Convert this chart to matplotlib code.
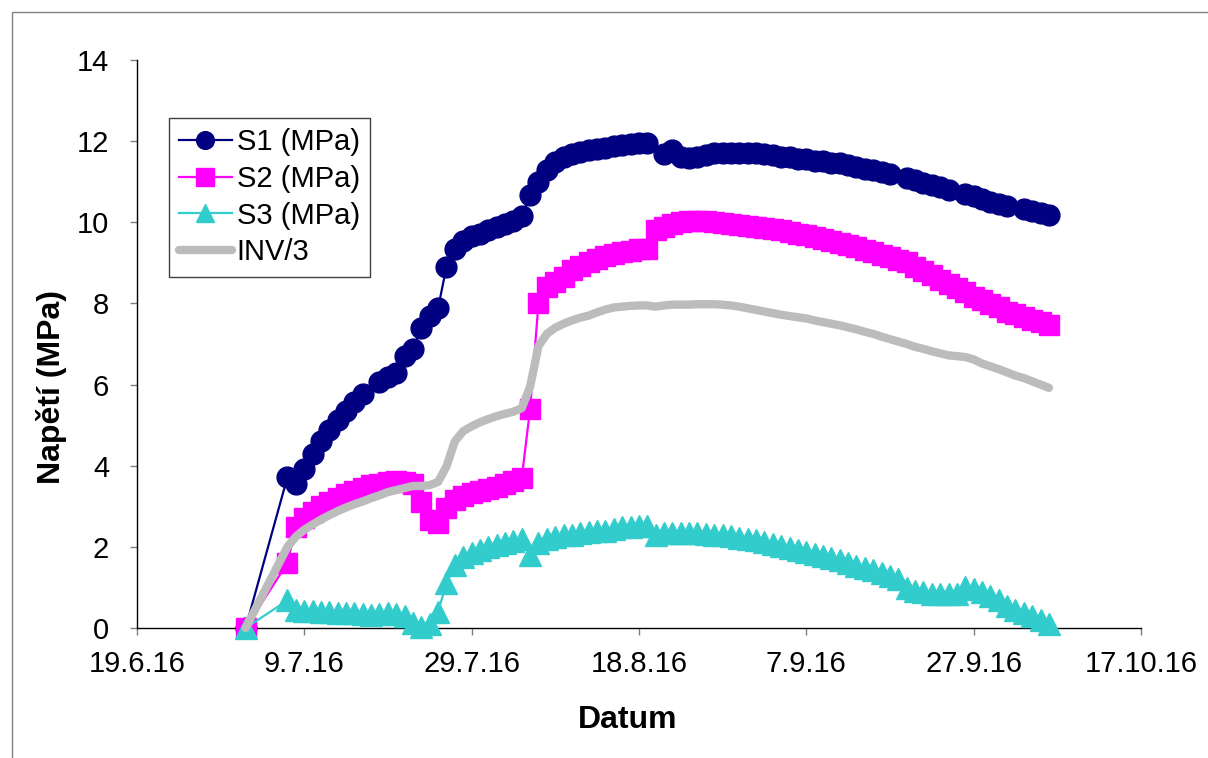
import matplotlib
matplotlib.use("Agg")
import matplotlib.pyplot as plt
from matplotlib.patches import Rectangle
import pandas as pd

plt.rcParams['font.family'] = ['Liberation Sans', 'DejaVu Sans']

# ---------------- data (days after 19.6.2016) ----------------
base_date = "2016-06-19"

s1_days = [13, 18, 19, 20, 21, 22, 23, 24, 25, 26, 27, 29, 30, 31, 32, 33, 34, 35, 36, 37,
           38, 39, 40, 41, 42, 43, 44, 45, 46, 47, 48, 49, 50, 51, 52, 53, 54, 55, 56, 57,
           58, 59, 60, 61, 63, 64, 65, 66, 67, 68, 69, 70, 71, 72, 73, 74, 75, 76, 77, 78,
           79, 80, 81, 82, 83, 84, 85, 86, 87, 88, 89, 90, 92, 93, 94, 95, 96, 97, 99, 100,
           101, 102, 103, 104, 106, 107, 108, 109]
s1_vals = [0.0, 3.72, 3.55, 3.92, 4.30, 4.62, 4.87, 5.12, 5.35, 5.57, 5.76, 6.07, 6.18, 6.28, 6.70, 6.88, 7.40, 7.70, 7.88, 8.90,
           9.35, 9.55, 9.65, 9.72, 9.80, 9.88, 9.95, 10.02, 10.15, 10.67, 11.00, 11.28, 11.48, 11.60, 11.68, 11.74, 11.78, 11.80, 11.84, 11.88,
           11.90, 11.93, 11.95, 11.95, 11.68, 11.78, 11.62, 11.58, 11.62, 11.66, 11.70, 11.72, 11.72, 11.72, 11.70, 11.70, 11.68, 11.65, 11.62, 11.60,
           11.57, 11.55, 11.52, 11.50, 11.47, 11.45, 11.40, 11.36, 11.32, 11.28, 11.24, 11.20, 11.10, 11.04, 10.98, 10.92, 10.86, 10.80, 10.70, 10.64,
           10.57, 10.50, 10.45, 10.40, 10.32, 10.27, 10.22, 10.18]

s2_days = [13, 18, 19, 20, 21, 22, 23, 24, 25, 26, 27, 28, 29, 30, 31, 32, 33, 34, 35, 36,
           37, 38, 39, 40, 41, 42, 43, 44, 45, 46, 47, 48, 49, 50, 51, 52, 53, 54, 55, 56,
           57, 58, 59, 60, 61, 62, 63, 64, 65, 66, 67, 68, 69, 70, 71, 72, 73, 74, 75, 76,
           77, 78, 79, 80, 81, 82, 83, 84, 85, 86, 87, 88, 89, 90, 91, 92, 93, 94, 95, 96,
           97, 98, 99, 100, 101, 102, 103, 104, 105, 106, 107, 108, 109]
s2_vals = [0.0, 1.60, 2.50, 2.70, 2.85, 3.00, 3.10, 3.20, 3.30, 3.38, 3.45, 3.52, 3.56, 3.60, 3.62, 3.60, 3.55, 3.10, 2.65, 2.60,
           2.95, 3.15, 3.25, 3.32, 3.38, 3.42, 3.48, 3.55, 3.62, 3.70, 5.40, 8.00, 8.40, 8.52, 8.65, 8.82, 8.92, 9.02, 9.10, 9.18,
           9.23, 9.27, 9.30, 9.33, 9.35, 9.80, 9.88, 9.95, 10.00, 10.03, 10.03, 10.02, 10.00, 9.98, 9.96, 9.94, 9.91, 9.88, 9.86, 9.84,
           9.80, 9.76, 9.72, 9.69, 9.64, 9.60, 9.55, 9.50, 9.45, 9.38, 9.32, 9.26, 9.20, 9.14, 9.08, 9.01, 8.90, 8.80, 8.69, 8.58,
           8.48, 8.38, 8.27, 8.17, 8.08, 7.99, 7.90, 7.80, 7.73, 7.66, 7.60, 7.55, 7.48]

s3_days = s2_days
s3_vals = [0.0, 0.68, 0.45, 0.42, 0.42, 0.40, 0.40, 0.38, 0.37, 0.36, 0.35, 0.33, 0.35, 0.38, 0.35, 0.30, 0.12, 0.02, 0.10, 0.40,
           1.10, 1.55, 1.75, 1.85, 1.92, 2.00, 2.05, 2.10, 2.15, 2.20, 1.80, 2.10, 2.20, 2.25, 2.28, 2.30, 2.33, 2.36, 2.38, 2.40,
           2.45, 2.48, 2.50, 2.52, 2.52, 2.28, 2.35, 2.35, 2.35, 2.33, 2.33, 2.32, 2.30, 2.28, 2.26, 2.23, 2.20, 2.17, 2.12, 2.07,
           2.02, 1.97, 1.92, 1.87, 1.82, 1.77, 1.72, 1.67, 1.60, 1.54, 1.48, 1.42, 1.35, 1.28, 1.20, 0.98, 0.92, 0.88, 0.85, 0.83,
           0.83, 0.85, 1.00, 0.95, 0.88, 0.78, 0.68, 0.55, 0.45, 0.38, 0.30, 0.20, 0.10]

inv_days = s2_days
inv_vals = [0.0, 2.00, 2.25, 2.42, 2.55, 2.67, 2.78, 2.88, 2.97, 3.05, 3.12, 3.20, 3.27, 3.35, 3.40, 3.45, 3.50, 3.50, 3.52, 3.60,
            3.98, 4.60, 4.85, 4.97, 5.07, 5.15, 5.22, 5.28, 5.33, 5.42, 5.95, 6.95, 7.25, 7.40, 7.50, 7.58, 7.65, 7.70, 7.78, 7.85,
            7.90, 7.92, 7.94, 7.95, 7.95, 7.92, 7.95, 7.97, 7.97, 7.97, 7.98, 7.98, 7.98, 7.97, 7.95, 7.92, 7.88, 7.84, 7.80, 7.76,
            7.72, 7.69, 7.66, 7.63, 7.58, 7.54, 7.50, 7.46, 7.41, 7.36, 7.30, 7.25, 7.18, 7.12, 7.06, 7.00, 6.93, 6.88, 6.82, 6.77,
            6.72, 6.70, 6.68, 6.62, 6.52, 6.45, 6.38, 6.30, 6.22, 6.16, 6.08, 6.00, 5.92]

series_labels = ["S1 (MPa)", "S2 (MPa)", "S3 (MPa)", "INV/3"]
x_tick_labels = ["19.6.16", "9.7.16", "29.7.16", "18.8.16", "7.9.16", "27.9.16", "17.10.16"]
x_tick_dates = ["2016-06-19", "2016-07-09", "2016-07-29", "2016-08-18",
                "2016-09-07", "2016-09-27", "2016-10-17"]
y_ticks = [0, 2, 4, 6, 8, 10, 12, 14]
x_label = "Datum"
y_label = "Napětí (MPa)"


def to_dates(days):
    return pd.Timestamp(base_date) + pd.to_timedelta(days, unit="D")


# ---------------- figure ----------------
fig = plt.figure(figsize=(12.08, 7.58), dpi=100)
fig.patch.set_facecolor("white")
fig.add_artist(Rectangle((12 / 1208, -0.1), 1.2, 1.1 - 12 / 758, transform=fig.transFigure,
                         fill=False, edgecolor="#808080", linewidth=1.0))

ax = fig.add_axes([136.8 / 1208, 130 / 758, 1004.2 / 1208, 568 / 758])

ax.plot(to_dates(s1_days), s1_vals, color="#000080", lw=1.6, marker="o", ms=15,
        mfc="#000080", mec="#000080", mew=1, label=series_labels[0], clip_on=False, zorder=3)
ax.plot(to_dates(s2_days), s2_vals, color="#FF00FF", lw=1.6, marker="s", ms=14.5,
        mfc="#FF00FF", mec="#FF00FF", mew=1, label=series_labels[1], clip_on=False, zorder=4)
ax.plot(to_dates(s3_days), s3_vals, color="#33CCCC", lw=1.6, marker="^", ms=15.5,
        mfc="#33CCCC", mec="#33CCCC", mew=1, label=series_labels[2], clip_on=False, zorder=5)
ax.plot(to_dates(inv_days), inv_vals, color="#bcbcbc", lw=6, solid_capstyle="round",
        label=series_labels[3], clip_on=False, zorder=6)

ax.set_xlim(pd.Timestamp(x_tick_dates[0]), pd.Timestamp(x_tick_dates[-1]))
ax.set_ylim(0, 14)
ax.set_yticks(y_ticks)
ax.set_yticklabels([str(v) for v in y_ticks])
ax.set_xticks(pd.to_datetime(x_tick_dates))
ax.set_xticklabels(x_tick_labels)

for side in ("top", "right"):
    ax.spines[side].set_visible(False)
for side in ("left", "bottom"):
    ax.spines[side].set_color("black")
    ax.spines[side].set_linewidth(1.0)

ax.tick_params(axis="both", direction="out", length=5, width=1, color="#808080",
               labelsize=21, labelcolor="black")
ax.tick_params(axis="y", pad=15)
ax.tick_params(axis="x", pad=11)

ax.set_xlabel(x_label, fontsize=23, fontweight="bold")
ax.set_ylabel(y_label, fontsize=23, fontweight="bold")
ax.xaxis.set_label_coords(0.489, -0.135)
ax.yaxis.set_label_coords(-0.07, 0.425)

leg = ax.legend(loc="upper left", bbox_to_anchor=(0.032, 0.898), fontsize=21,
                frameon=True, fancybox=False, edgecolor="#404040", framealpha=1,
                borderaxespad=0, borderpad=0.35, labelspacing=0.3, handlelength=1.8,
                handletextpad=0.17, markerscale=0.85)
leg.get_frame().set_linewidth(1.0)

fig.savefig("out.png", dpi=100, facecolor="white")
